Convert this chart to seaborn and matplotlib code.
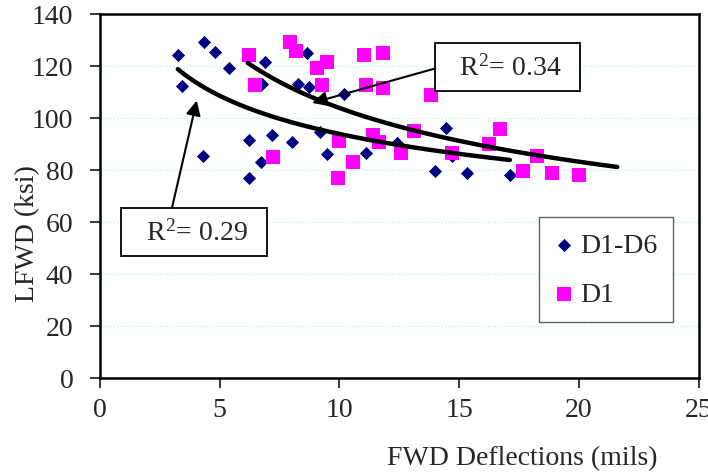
import numpy as np
import pandas as pd
import matplotlib
matplotlib.use("Agg")
import matplotlib.pyplot as plt
import seaborn as sns

# FWD deflection (mils) vs LFWD modulus (ksi)
d1d6_defl = [3.26, 4.35, 4.80, 5.41, 3.42, 6.89, 6.77, 8.64, 8.29, 8.75, 10.2,
             4.32, 6.24, 7.18, 8.03, 9.19, 9.47, 6.73, 6.22, 11.11, 12.4, 14.45,
             14.72, 14.0, 15.32, 17.12]
d1d6_lfwd = [124.3, 129.3, 125.5, 119.1, 112.4, 121.7, 113.1, 124.9, 113.1, 111.8,
             109.1, 85.3, 91.5, 93.6, 90.6, 94.7, 86.2, 83.2, 76.8, 86.4, 90.4,
             96.0, 85.3, 79.7, 78.8, 78.2]

d1_defl = [6.22, 7.94, 8.19, 9.06, 9.47, 6.50, 9.26, 10.0, 7.25, 9.96, 11.03,
           11.84, 11.11, 11.84, 13.83, 11.39, 11.67, 13.13, 12.56, 10.58, 14.72,
           16.26, 16.71, 17.68, 18.26, 18.86, 20.02]
d1_lfwd = [124.3, 129.3, 125.6, 119.2, 121.7, 112.7, 112.8, 91.3, 85.1, 76.8,
           124.2, 124.9, 112.7, 111.5, 108.8, 93.6, 90.6, 95.1, 86.4, 83.2, 86.4,
           90.0, 95.8, 79.7, 85.5, 78.8, 78.1]

series_names = ["D1-D6", "D1"]
r_squared = [0.29, 0.34]
# extent of each power trend line (mils)
trend_start = [3.26, 6.18]
trend_end = [17.12, 21.6]

x_ticks = [0, 5, 10, 15, 20, 25]
y_ticks = [0, 20, 40, 60, 80, 100, 120, 140]

sns.set_style("ticks")
plt.rcParams["font.family"] = ["Liberation Serif", "DejaVu Serif"]
plt.rcParams["font.size"] = 20
plt.rcParams["mathtext.fontset"] = "custom"
plt.rcParams["mathtext.rm"] = "Liberation Serif"
plt.rcParams["mathtext.it"] = "Liberation Serif:italic"

df = pd.concat([
    pd.DataFrame({"defl": d1d6_defl, "lfwd": d1d6_lfwd, "set": series_names[0]}),
    pd.DataFrame({"defl": d1_defl, "lfwd": d1_lfwd, "set": series_names[1]}),
])

fig = plt.figure(figsize=(7.08, 4.77), dpi=100)
ax = fig.add_axes([99.7 / 708, 1 - 379 / 477, 599 / 708, 364 / 477])

colors = {"D1-D6": "#000080", "D1": "#FF00FF"}
markers = {"D1-D6": "D", "D1": "s"}
sizes = {"D1-D6": 45, "D1": 95}

for name in series_names:
    sub = df[df["set"] == name]
    sns.scatterplot(data=sub, x="defl", y="lfwd", ax=ax, color=colors[name],
                    marker=markers[name], s=sizes[name], linewidth=0,
                    label=name, zorder=3)

# power trend lines fitted in log-log space
for i, name in enumerate(series_names):
    sub = df[df["set"] == name]
    b, loga = np.polyfit(np.log(sub["defl"]), np.log(sub["lfwd"]), 1)
    xs = np.linspace(trend_start[i], trend_end[i], 100)
    ax.plot(xs, np.exp(loga) * xs ** b, color="black", lw=3.2,
            solid_capstyle="round", zorder=4)

ax.set_xlim(0, 25)
ax.set_ylim(0, 140)
ax.set_xticks(x_ticks)
ax.set_yticks(y_ticks)
ax.yaxis.grid(True, color="#b8f4f4", linestyle=":", lw=0.9)
ax.set_axisbelow(True)
for sp in ax.spines.values():
    sp.set_visible(True)
    sp.set_linewidth(1.8)
    sp.set_color("black")
ax.tick_params(axis="both", direction="out", length=7, width=1.3, labelsize=20)
ax.tick_params(axis="y", pad=12)
ax.tick_params(axis="x", pad=7)

ax.set_xlabel("FWD Deflections (mils)", fontsize=20)
ax.set_ylabel("LFWD (ksi)", fontsize=20)
ax.xaxis.set_label_coords(0.705, -0.185)
ax.yaxis.set_label_coords(-0.10, 0.40)

leg = ax.legend(loc="upper left", bbox_to_anchor=(0.733, 0.442), borderaxespad=0,
                fontsize=20, frameon=True, fancybox=False, edgecolor="#606060",
                framealpha=1, handlelength=0.7, handletextpad=0.25,
                labelspacing=0.85, borderpad=0.55)
leg.get_frame().set_linewidth(1.0)

box = dict(boxstyle="square,pad=0.4", fc="white", ec="black", lw=1.3)
ax.annotate(f"  R$^{{2}}$= {r_squared[1]:.2f}  ", xy=(8.87, 105.8), xytext=(17.02, 119.6),
            ha="center", va="center", fontsize=20, bbox=box, zorder=6,
            arrowprops=dict(arrowstyle="-|>", color="black", lw=1.5,
                            mutation_scale=22, shrinkA=0, shrinkB=0,
                            relpos=(0, 0.56)))
ax.annotate(f"  R$^{{2}}$= {r_squared[0]:.2f}  ", xy=(4.05, 106.7), xytext=(3.94, 56.2),
            ha="center", va="center", fontsize=20, bbox=box, zorder=6,
            arrowprops=dict(arrowstyle="-|>", color="black", lw=1.5,
                            mutation_scale=22, shrinkA=0, shrinkB=0,
                            relpos=(0.3, 1)))

fig.savefig("out.png", dpi=100)
